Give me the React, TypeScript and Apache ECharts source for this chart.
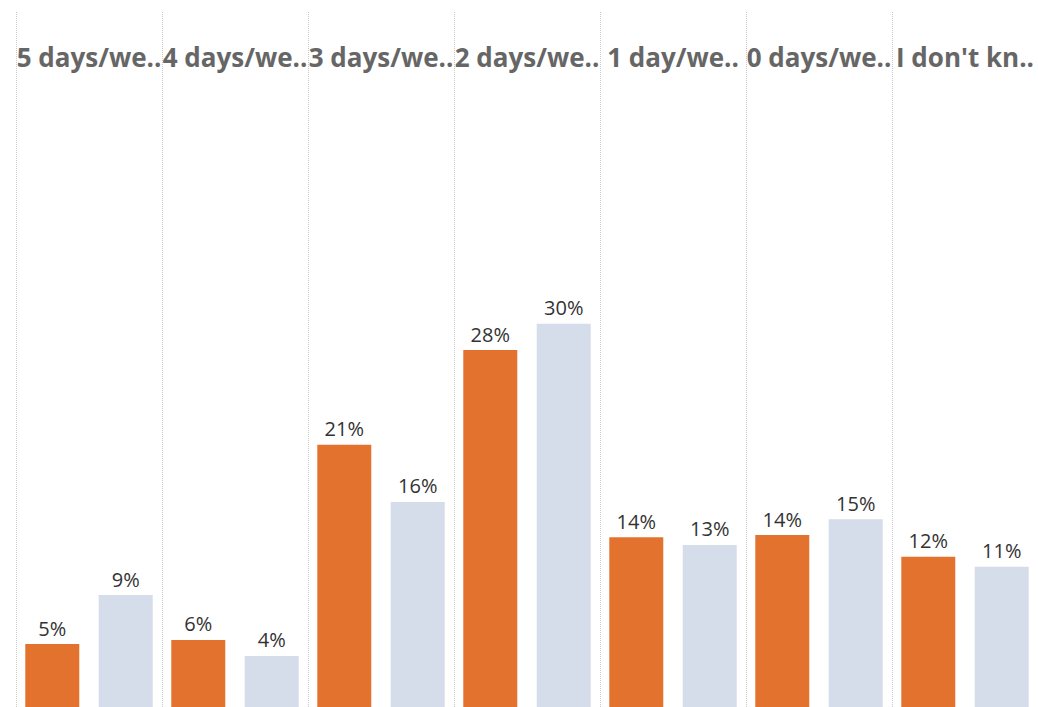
import React, { useEffect, useRef } from "react";
import * as echarts from "echarts";

const categories = [
  "5 days/we..",
  "4 days/we..",
  "3 days/we..",
  "2 days/we..",
  "1 day/we..",
  "0 days/we..",
  "I don't kn..",
];
const seriesA = [5.23, 5.55, 20.8, 28.2, 13.57, 13.75, 12.05];
const seriesB = [9.06, 4.3, 16.33, 30.26, 12.97, 14.98, 11.27];

export default function App() {
  const ref = useRef<HTMLDivElement>(null);
  useEffect(() => {
    if (!ref.current) return;
    const chart = echarts.init(ref.current, null, { renderer: "svg" });
    const label = {
      show: true,
      position: "top",
      distance: 6,
      color: "#333333",
      fontSize: 20,
      fontFamily: "Open Sans",
      formatter: (p: any) => Math.round(p.value) + "%",
    };
    chart.setOption({
      animation: false,
      backgroundColor: "#ffffff",
      grid: { left: 16, width: 1025.5, top: 12, bottom: 0, containLabel: false },
      xAxis: {
        type: "category",
        data: categories,
        position: "top",
        axisLine: { show: false },
        axisTick: { show: false },
        axisLabel: {
          inside: true,
          margin: 45,
          verticalAlign: "middle",
          interval: 0,
          fontSize: 26,
          fontWeight: "bold",
          fontFamily: "Open Sans",
          color: "#666666",
        },
        splitLine: {
          show: true,
          interval: 0,
          lineStyle: { color: "#c8c8c8", type: "dotted", width: 1 },
        },
      },
      yAxis: {
        type: "value",
        min: 0.3125,
        max: 54.61,
        show: false,
        splitLine: { show: false },
      },
      series: [
        {
          type: "bar",
          data: seriesA,
          barWidth: 54,
          barGap: "36%",
          itemStyle: { color: "#E3722F" },
          label,
        },
        {
          type: "bar",
          data: seriesB,
          barWidth: 54,
          barGap: "36%",
          itemStyle: { color: "#D5DCEA" },
          label,
        },
      ],
    });
    return () => chart.dispose();
  }, []);
  return (
    <div
      ref={ref}
      style={{ position: "fixed", left: 0, top: 0, width: 1038, height: 707 }}
    />
  );
}
